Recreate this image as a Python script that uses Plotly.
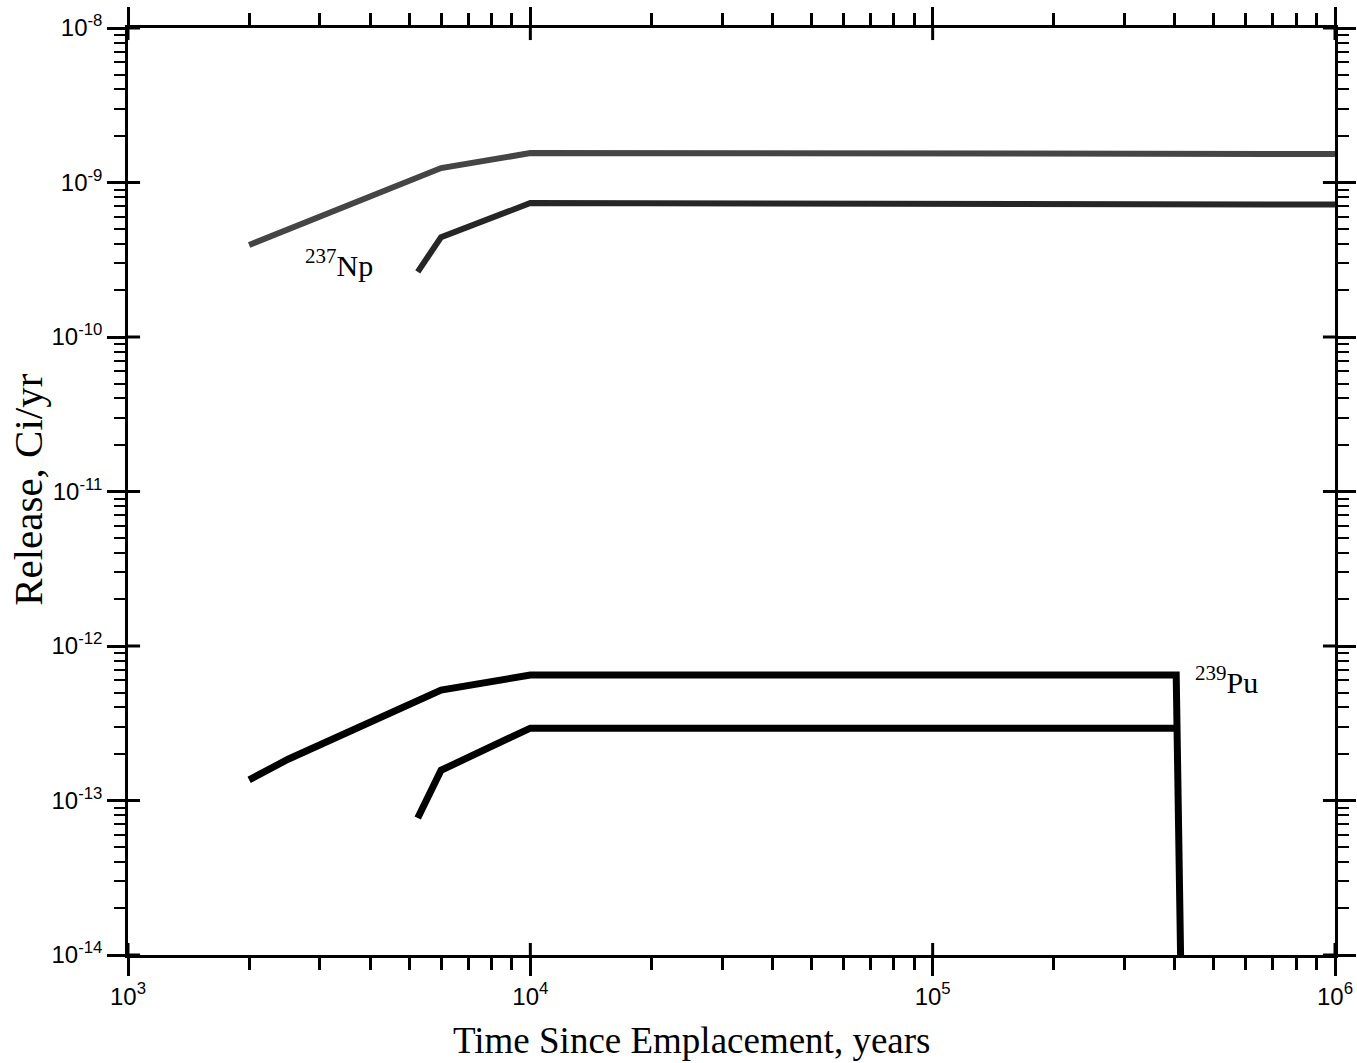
import plotly.graph_objects as go

# Data
np_upper_t = [2000, 6000, 10000, 1.0e6]
np_upper_r = [3.94e-10, 1.24e-9, 1.55e-9, 1.53e-9]

np_lower_t = [5250, 6000, 10000, 1.0e6]
np_lower_r = [2.64e-10, 4.43e-10, 7.36e-10, 7.2e-10]

pu_upper_t = [2000, 2500, 6000, 10000, 4.03e5, 4.19e5]
pu_upper_r = [1.36e-13, 1.85e-13, 5.19e-13, 6.49e-13, 6.49e-13, 1.0e-15]

pu_lower_t = [5250, 6000, 10000, 4.03e5]
pu_lower_r = [7.7e-14, 1.57e-13, 2.94e-13, 2.94e-13]

x_tickvals = [1e3, 1e4, 1e5, 1e6]
x_ticktext = ["10<sup>3</sup>", "10<sup>4</sup>", "10<sup>5</sup>", "10<sup>6</sup>"]
y_tickvals = [1e-8, 1e-9, 1e-10, 1e-11, 1e-12, 1e-13, 1e-14]
y_ticktext = ["10<sup>-8</sup>", "10<sup>-9</sup>", "10<sup>-10</sup>", "10<sup>-11</sup>",
              "10<sup>-12</sup>", "10<sup>-13</sup>", "10<sup>-14</sup>"]

x_title = "Time Since Emplacement, years"
y_title = "Release, Ci/yr"

x_minor = [m * 10 ** e for e in (3, 4, 5) for m in range(2, 10)]
y_minor = [m * 10.0 ** e for e in (-14, -13, -12, -11, -10, -9) for m in range(2, 10)]

fig = go.Figure()
fig.add_trace(go.Scatter(x=np_upper_t, y=np_upper_r, mode="lines",
                         line=dict(color="#454545", width=6), showlegend=False))
fig.add_trace(go.Scatter(x=np_lower_t, y=np_lower_r, mode="lines",
                         line=dict(color="#262626", width=6), showlegend=False))
fig.add_trace(go.Scatter(x=pu_upper_t, y=pu_upper_r, mode="lines",
                         line=dict(color="black", width=7), showlegend=False))
fig.add_trace(go.Scatter(x=pu_lower_t, y=pu_lower_r, mode="lines",
                         line=dict(color="black", width=7), showlegend=False))

fig.add_annotation(x=3.525, y=-9.52, xref="x", yref="y", text="<sup>237</sup>Np",
                   showarrow=False, font=dict(family="Liberation Serif", size=30, color="black"))
fig.add_annotation(x=5.73, y=-12.22, xref="x", yref="y", text="<sup>239</sup>Pu",
                   showarrow=False, font=dict(family="Liberation Serif", size=30, color="black"))

# axis titles
fig.add_annotation(x=0.467, y=-0.092, xref="paper", yref="paper", text=x_title,
                   showarrow=False, xanchor="center", yanchor="middle",
                   font=dict(family="Liberation Serif", size=37, color="black"))
fig.add_annotation(x=-0.0835, y=0.502, xref="paper", yref="paper", text=y_title,
                   showarrow=False, xanchor="center", yanchor="middle", textangle=-90,
                   font=dict(family="Liberation Serif", size=41, color="black"))

# inside halves of the major ticks (major ticks cross the frame)
shapes = []
for k in range(4):
    fx = k / 3
    shapes.append(dict(type="line", xref="paper", yref="paper", x0=fx, x1=fx, y0=0, y1=0.013,
                       line=dict(color="black", width=3)))
    shapes.append(dict(type="line", xref="paper", yref="paper", x0=fx, x1=fx, y0=1, y1=0.987,
                       line=dict(color="black", width=3)))
for k in range(7):
    fy = k / 6
    shapes.append(dict(type="line", xref="paper", yref="paper", x0=0, x1=0.01, y0=fy, y1=fy,
                       line=dict(color="black", width=3)))
    shapes.append(dict(type="line", xref="paper", yref="paper", x0=1, x1=0.99, y0=fy, y1=fy,
                       line=dict(color="black", width=3)))

axis_common = dict(showgrid=False, zeroline=False, showline=True, linecolor="black",
                   linewidth=2.5, mirror="allticks", ticks="outside", ticklen=18,
                   tickwidth=3, tickcolor="black", automargin=False,
                   tickfont=dict(family="Liberation Sans", size=24, color="black"))

fig.update_xaxes(type="log", range=[3, 6], tickvals=x_tickvals, ticktext=x_ticktext,
                 minor=dict(tickvals=x_minor, ticks="outside", ticklen=12, tickwidth=2.5,
                            tickcolor="black", showgrid=False),
                 **axis_common)
fig.update_yaxes(type="log", range=[-14, -8], tickvals=y_tickvals, ticktext=y_ticktext,
                 minor=dict(tickvals=y_minor, ticks="outside", ticklen=11, tickwidth=2,
                            tickcolor="black", showgrid=False),
                 **axis_common)

fig.update_layout(width=1357, height=1063, margin=dict(l=128, r=22, t=28, b=108),
                  plot_bgcolor="white", paper_bgcolor="white", shapes=shapes)

fig.write_html("out.html")
